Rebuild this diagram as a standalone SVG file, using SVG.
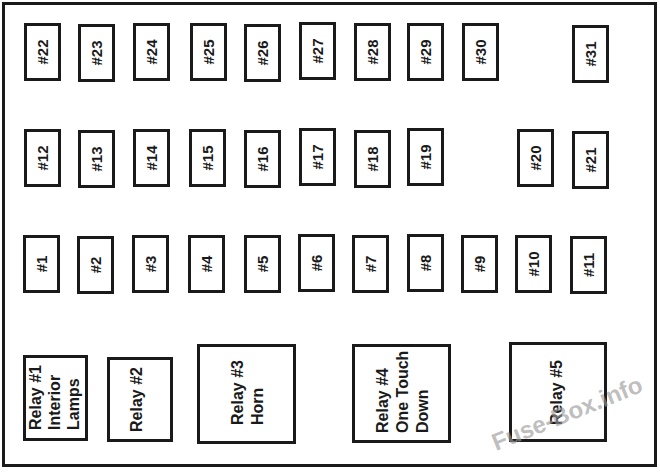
<svg xmlns="http://www.w3.org/2000/svg" width="660" height="472" viewBox="0 0 660 472">
<style>
  rect { fill: #fff; stroke: #1a1a1a; stroke-width: 3; }
  text { font-family: "Liberation Sans", Arial, sans-serif; font-weight: bold; fill: #1a1a1a; }
  .fuse text { font-size: 15px; text-anchor: middle; }
  .relay text { font-size: 16px; text-anchor: start; }
  .wm { font-size: 24px; fill: #9a9a9a; fill-opacity: 0.65; }
</style>
<rect id="frame" x="3.5" y="3.5" width="652" height="462"/>
<g id="fuses" class="fuse">
  <g id="f22" transform="translate(42.5,52)"><rect x="-17" y="-27.5" width="34" height="55"/><text transform="rotate(-90)" y="5.5">#22</text></g>
  <g id="f23" transform="translate(96.5,53)"><rect x="-17" y="-27.5" width="34" height="55"/><text transform="rotate(-90)" y="5.5">#23</text></g>
  <g id="f24" transform="translate(151.5,52)"><rect x="-17" y="-27.5" width="34" height="55"/><text transform="rotate(-90)" y="5.5">#24</text></g>
  <g id="f25" transform="translate(208.5,52)"><rect x="-17" y="-27.5" width="34" height="55"/><text transform="rotate(-90)" y="5.5">#25</text></g>
  <g id="f26" transform="translate(262.5,53)"><rect x="-17" y="-27.5" width="34" height="55"/><text transform="rotate(-90)" y="5.5">#26</text></g>
  <g id="f27" transform="translate(317.5,51)"><rect x="-17" y="-27.5" width="34" height="55"/><text transform="rotate(-90)" y="5.5">#27</text></g>
  <g id="f28" transform="translate(372.5,52)"><rect x="-17" y="-27.5" width="34" height="55"/><text transform="rotate(-90)" y="5.5">#28</text></g>
  <g id="f29" transform="translate(425.5,52)"><rect x="-17" y="-27.5" width="34" height="55"/><text transform="rotate(-90)" y="5.5">#29</text></g>
  <g id="f30" transform="translate(480.5,52)"><rect x="-17" y="-27.5" width="34" height="55"/><text transform="rotate(-90)" y="5.5">#30</text></g>
  <g id="f31" transform="translate(590.5,54)"><rect x="-17" y="-27.5" width="34" height="55"/><text transform="rotate(-90)" y="5.5">#31</text></g>

  <g id="f12" transform="translate(42.5,158)"><rect x="-17" y="-27.5" width="34" height="55"/><text transform="rotate(-90)" y="5.5">#12</text></g>
  <g id="f13" transform="translate(96.5,159)"><rect x="-17" y="-27.5" width="34" height="55"/><text transform="rotate(-90)" y="5.5">#13</text></g>
  <g id="f14" transform="translate(151.5,158)"><rect x="-17" y="-27.5" width="34" height="55"/><text transform="rotate(-90)" y="5.5">#14</text></g>
  <g id="f15" transform="translate(207.5,158)"><rect x="-17" y="-27.5" width="34" height="55"/><text transform="rotate(-90)" y="5.5">#15</text></g>
  <g id="f16" transform="translate(262.5,159)"><rect x="-17" y="-27.5" width="34" height="55"/><text transform="rotate(-90)" y="5.5">#16</text></g>
  <g id="f17" transform="translate(317.5,157)"><rect x="-17" y="-27.5" width="34" height="55"/><text transform="rotate(-90)" y="5.5">#17</text></g>
  <g id="f18" transform="translate(372.5,159)"><rect x="-17" y="-27.5" width="34" height="55"/><text transform="rotate(-90)" y="5.5">#18</text></g>
  <g id="f19" transform="translate(425.5,157)"><rect x="-17" y="-27.5" width="34" height="55"/><text transform="rotate(-90)" y="5.5">#19</text></g>
  <g id="f20" transform="translate(535.5,158)"><rect x="-17" y="-27.5" width="34" height="55"/><text transform="rotate(-90)" y="5.5">#20</text></g>
  <g id="f21" transform="translate(590.5,160)"><rect x="-17" y="-27.5" width="34" height="55"/><text transform="rotate(-90)" y="5.5">#21</text></g>

  <g id="f1" transform="translate(41.5,264)"><rect x="-17" y="-27.5" width="34" height="55"/><text transform="rotate(-90)" y="5.5">#1</text></g>
  <g id="f2" transform="translate(95.5,265)"><rect x="-17" y="-27.5" width="34" height="55"/><text transform="rotate(-90)" y="5.5">#2</text></g>
  <g id="f3" transform="translate(150.5,264)"><rect x="-17" y="-27.5" width="34" height="55"/><text transform="rotate(-90)" y="5.5">#3</text></g>
  <g id="f4" transform="translate(206.5,264)"><rect x="-17" y="-27.5" width="34" height="55"/><text transform="rotate(-90)" y="5.5">#4</text></g>
  <g id="f5" transform="translate(262.5,264)"><rect x="-17" y="-27.5" width="34" height="55"/><text transform="rotate(-90)" y="5.5">#5</text></g>
  <g id="f6" transform="translate(316.5,263)"><rect x="-17" y="-27.5" width="34" height="55"/><text transform="rotate(-90)" y="5.5">#6</text></g>
  <g id="f7" transform="translate(370.5,264)"><rect x="-17" y="-27.5" width="34" height="55"/><text transform="rotate(-90)" y="5.5">#7</text></g>
  <g id="f8" transform="translate(425.5,263)"><rect x="-17" y="-27.5" width="34" height="55"/><text transform="rotate(-90)" y="5.5">#8</text></g>
  <g id="f9" transform="translate(479.5,264)"><rect x="-17" y="-27.5" width="34" height="55"/><text transform="rotate(-90)" y="5.5">#9</text></g>
  <g id="f10" transform="translate(533.5,264)"><rect x="-17" y="-27.5" width="34" height="55"/><text transform="rotate(-90)" y="5.5">#10</text></g>
  <g id="f11" transform="translate(588.5,265)"><rect x="-17" y="-27.5" width="34" height="55"/><text transform="rotate(-90)" y="5.5">#11</text></g>
</g>
<g id="relays" class="relay">
  <g id="relay1"><rect x="24.5" y="356.5" width="62" height="83"/>
    <text transform="translate(40.5,430) rotate(-90)"><tspan x="0" y="0">Relay #1</tspan><tspan x="0" y="19">Interior</tspan><tspan x="0" y="38">Lamps</tspan></text></g>
  <g id="relay2"><rect x="108.5" y="358.5" width="63" height="82"/>
    <text transform="translate(141.5,432) rotate(-90)">Relay #2</text></g>
  <g id="relay3"><rect x="198.5" y="345.5" width="96" height="97"/>
    <text transform="translate(243,425) rotate(-90)"><tspan x="0" y="0">Relay #3</tspan><tspan x="0" y="20">Horn</tspan></text></g>
  <g id="relay4"><rect x="353.5" y="345.5" width="96" height="96"/>
    <text transform="translate(388,433) rotate(-90)"><tspan x="0" y="0">Relay #4</tspan><tspan x="0" y="20">One Touch</tspan><tspan x="0" y="40">Down</tspan></text></g>
  <g id="relay5"><rect x="510.5" y="343.5" width="95" height="97"/>
    <text transform="translate(561.5,425) rotate(-90)">Relay #5</text></g>
</g>
<text class="wm" transform="translate(496,451) rotate(-22)">Fuse-Box.info</text>
</svg>
